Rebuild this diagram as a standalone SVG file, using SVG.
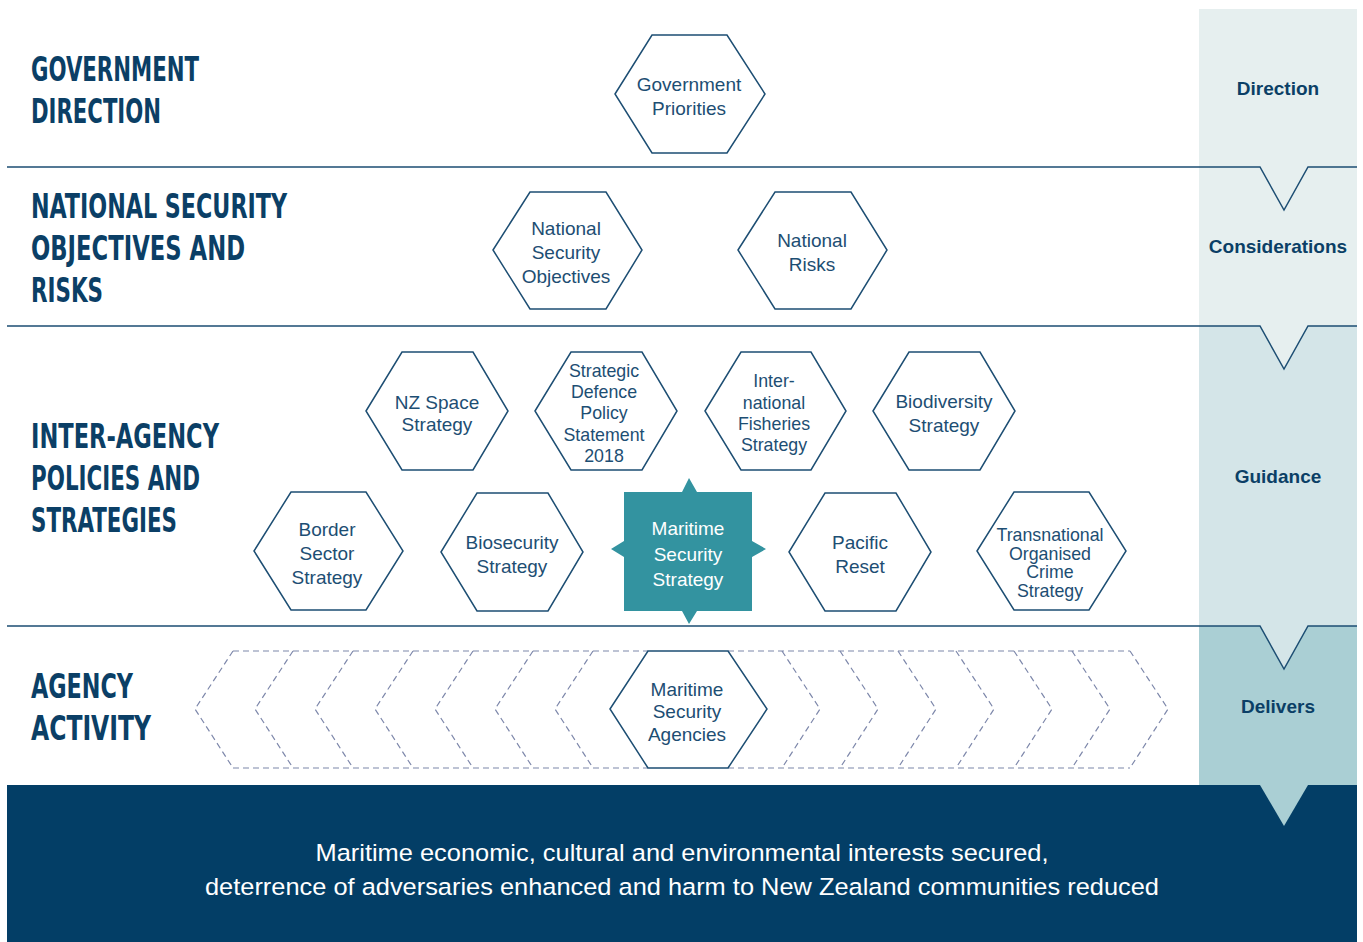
<svg xmlns="http://www.w3.org/2000/svg" width="1363" height="942" viewBox="0 0 1363 942">
<style>
.hd{font-family:"DejaVu Sans Condensed","DejaVu Sans",sans-serif;font-weight:bold;font-size:34px;fill:#0b3f66}
.hx{fill:#fff;stroke:#1d4e73;stroke-width:1.5}
.t{font-family:"Liberation Sans",Arial,sans-serif;font-size:19px;fill:#1d4e73;text-anchor:middle}
.ts{font-size:17.8px}
.rt{font-family:"Liberation Sans",Arial,sans-serif;font-weight:bold;font-size:19px;fill:#0b3f66;text-anchor:middle}
.div{fill:none;stroke:#1d4e73;stroke-width:1.5}
.dash{fill:none;stroke:#7d87aa;stroke-width:1.2;stroke-dasharray:6 4}
.bt{font-family:"Liberation Sans",Arial,sans-serif;font-size:24.5px;fill:#fff;text-anchor:middle}
</style>
<rect width="1363" height="942" fill="#fff"/>
<g id="side-column">
<rect x="1199" y="9" width="158" height="317" fill="#e6efef"/>
<rect x="1199" y="326" width="158" height="300" fill="#d4e5e8"/>
<rect x="1199" y="626" width="158" height="159" fill="#aacfd4"/>
<polygon points="1260,326 1284,369 1308,326" fill="#e6efef"/>
<polygon points="1260,626 1284,669 1308,626" fill="#d4e5e8"/>
<rect x="7" y="785" width="1350" height="157" fill="#033e66"/>
<polygon points="1260,785 1284,826 1308,785" fill="#aacfd4"/>
<text class="rt" x="1278" y="95">Direction</text>
<text class="rt" x="1278" y="253">Considerations</text>
<text class="rt" x="1278" y="483">Guidance</text>
<text class="rt" x="1278" y="713">Delivers</text>
</g>
<g id="connectors">
<polyline class="div" points="7,167 1260,167 1284,210 1308,167 1357,167"/>
<polyline class="div" points="7,326 1260,326 1284,369 1308,326 1357,326"/>
<polyline class="div" points="7,626 1260,626 1284,669 1308,626 1357,626"/>
</g>
<g id="headings">
<text class="hd" x="31" y="81" textLength="168" lengthAdjust="spacingAndGlyphs">GOVERNMENT</text>
<text class="hd" x="31" y="123" textLength="130" lengthAdjust="spacingAndGlyphs">DIRECTION</text>
<text class="hd" x="31" y="218" textLength="256" lengthAdjust="spacingAndGlyphs">NATIONAL SECURITY</text>
<text class="hd" x="31" y="260" textLength="214" lengthAdjust="spacingAndGlyphs">OBJECTIVES AND</text>
<text class="hd" x="31" y="302" textLength="72" lengthAdjust="spacingAndGlyphs">RISKS</text>
<text class="hd" x="31" y="448" textLength="188" lengthAdjust="spacingAndGlyphs">INTER-AGENCY</text>
<text class="hd" x="31" y="490" textLength="169" lengthAdjust="spacingAndGlyphs">POLICIES AND</text>
<text class="hd" x="31" y="532" textLength="146" lengthAdjust="spacingAndGlyphs">STRATEGIES</text>
<text class="hd" x="31" y="698" textLength="102" lengthAdjust="spacingAndGlyphs">AGENCY</text>
<text class="hd" x="31" y="740" textLength="120" lengthAdjust="spacingAndGlyphs">ACTIVITY</text>
</g>
<g id="agency-chevrons">
<path class="dash" d="M233,651 H648 M233,768 H648 M728,651 H1130 M728,768 H1130"/>
<path class="dash" d="M233,651 L195,709 L233,768 M293,651 L255,709 L293,768 M353,651 L315,709 L353,768 M413,651 L375,709 L413,768 M473,651 L435,709 L473,768 M533,651 L495,709 L533,768 M593,651 L555,709 L593,768"/>
<path class="dash" d="M782,651 L820,709 L782,768 M840,651 L878,709 L840,768 M898,651 L936,709 L898,768 M956,651 L994,709 L956,768 M1014,651 L1052,709 L1014,768 M1072,651 L1110,709 L1072,768 M1130,651 L1168,709 L1130,768"/>
</g>
<g id="government-priorities">
<polygon class="hx" points="615,94 652,35 727,35 765,94 727,153 652,153"/>
<text class="t" x="689" y="91">Government</text><text class="t" x="689" y="115">Priorities</text>
</g>
<g id="national-security-objectives">
<polygon class="hx" points="493,250 530,192 606,192 642,250 606,309 530,309"/>
<text class="t" x="566" y="235">National</text><text class="t" x="566" y="259">Security</text><text class="t" x="566" y="283">Objectives</text>
</g>
<g id="national-risks">
<polygon class="hx" points="738,250 775,192 851,192 887,250 851,309 775,309"/>
<text class="t" x="812" y="247">National</text><text class="t" x="812" y="271">Risks</text>
</g>
<g id="nz-space-strategy">
<polygon class="hx" points="366,411 402,352 473,352 508,411 473,470 402,470"/>
<text class="t" x="437" y="409">NZ Space</text><text class="t" x="437" y="431">Strategy</text>
</g>
<g id="strategic-defence-policy">
<polygon class="hx" points="535,411 571,352 642,352 677,411 642,470 571,470"/>
<text class="t ts" x="604" y="377">Strategic</text><text class="t ts" x="604" y="398">Defence</text><text class="t ts" x="604" y="419">Policy</text><text class="t ts" x="604" y="441">Statement</text><text class="t ts" x="604" y="462">2018</text>
</g>
<g id="international-fisheries-strategy">
<polygon class="hx" points="705,411 741,352 811,352 846,411 811,470 741,470"/>
<text class="t ts" x="774" y="387">Inter-</text><text class="t ts" x="774" y="409">national</text><text class="t ts" x="774" y="430">Fisheries</text><text class="t ts" x="774" y="451">Strategy</text>
</g>
<g id="biodiversity-strategy">
<polygon class="hx" points="873,411 909,352 980,352 1015,411 980,470 909,470"/>
<text class="t" x="944" y="408">Biodiversity</text><text class="t" x="944" y="432">Strategy</text>
</g>
<g id="border-sector-strategy">
<polygon class="hx" points="254,551 291,492 366,492 403,551 366,610 291,610"/>
<text class="t" x="327" y="536">Border</text><text class="t" x="327" y="560">Sector</text><text class="t" x="327" y="584">Strategy</text>
</g>
<g id="biosecurity-strategy">
<polygon class="hx" points="441,552 477,493 548,493 583,552 548,611 477,611"/>
<text class="t" x="512" y="549">Biosecurity</text><text class="t" x="512" y="573">Strategy</text>
</g>
<g id="maritime-security-strategy">
<path d="M624,492 H682 L689,478 L697,492 H752 V541 L766,549 L752,557 V611 H697 L689,624 L682,611 H624 V557 L611,549 L624,541 Z" fill="#3393a0"/>
<text class="t" x="688" y="535" style="fill:#fff">Maritime</text><text class="t" x="688" y="561" style="fill:#fff">Security</text><text class="t" x="688" y="586" style="fill:#fff">Strategy</text>
</g>
<g id="pacific-reset">
<polygon class="hx" points="789,552 825,493 896,493 931,552 896,611 825,611"/>
<text class="t" x="860" y="549">Pacific</text><text class="t" x="860" y="573">Reset</text>
</g>
<g id="transnational-organised-crime-strategy">
<polygon class="hx" points="977,551 1014,492 1089,492 1126,551 1089,610 1014,610"/>
<text class="t ts" x="1050" y="541">Transnational</text><text class="t ts" x="1050" y="560">Organised</text><text class="t ts" x="1050" y="578">Crime</text><text class="t ts" x="1050" y="597">Strategy</text>
</g>
<g id="maritime-security-agencies">
<polygon class="hx" points="610,709 648,651 728,651 767,709 728,768 648,768"/>
<text class="t" x="687" y="696">Maritime</text><text class="t" x="687" y="718">Security</text><text class="t" x="687" y="741">Agencies</text>
</g>
<g id="outcome">
<text class="bt" x="682" y="861" textLength="733" lengthAdjust="spacingAndGlyphs">Maritime economic, cultural and environmental interests secured,</text>
<text class="bt" x="682" y="895" textLength="954" lengthAdjust="spacingAndGlyphs">deterrence of adversaries enhanced and harm to New Zealand communities reduced</text>
</g>
</svg>
